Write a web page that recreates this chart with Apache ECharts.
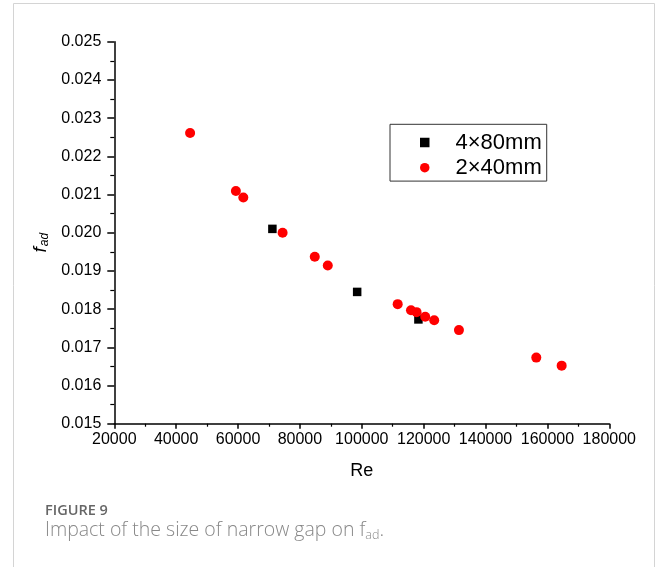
<!DOCTYPE html>
<html>
<head>
<meta charset="utf-8">
<script src="https://cdn.jsdelivr.net/npm/echarts@6/dist/echarts.min.js"></script>
<style>
html,body{margin:0;padding:0;background:#fff;}
#chart{width:658px;height:567px;}
</style>
</head>
<body>
<div id="chart"></div>
<script>
// Data
const seriesNames = ['4×80mm', '2×40mm'];
const re4x80 = [71100, 98500, 118300];
const fad4x80 = [0.02010, 0.01845, 0.01773];
const re2x40 = [44500, 59300, 61700, 74400, 84800, 89000, 111600, 115900, 117700, 120500, 123400, 131400, 156400, 164600];
const fad2x40 = [0.02261, 0.02109, 0.02092, 0.02000, 0.01937, 0.01914, 0.01813, 0.01797, 0.01792, 0.01780, 0.01771, 0.01745, 0.01673, 0.01652];
const xTicks = [20000, 40000, 60000, 80000, 100000, 120000, 140000, 160000, 180000];
const yTicks = [0.015, 0.016, 0.017, 0.018, 0.019, 0.020, 0.021, 0.022, 0.023, 0.024, 0.025];
const xTitle = 'Re';
const captionTitle = 'FIGURE 9';
const captionText = 'Impact of the size of narrow gap on ';

const pairs = (xs, ys) => xs.map((x, i) => [x, ys[i]]);
const FONT = '"Liberation Sans", Arial, sans-serif';
const CAPFONT = '"Open Sans", "Noto Sans", sans-serif';

const chart = echarts.init(document.getElementById('chart'), null, {renderer: 'canvas'});
chart.setOption({
  animation: false,
  backgroundColor: '#fff',
  grid: {left: 114.3, right: 48.7, top: 41.7, bottom: 143.3, containLabel: false},
  xAxis: {
    type: 'value',
    min: xTicks[0], max: xTicks[xTicks.length - 1], interval: xTicks[1] - xTicks[0],
    splitLine: {show: false},
    axisLine: {onZero: false, lineStyle: {color: '#000', width: 1.5}},
    axisTick: {length: 5, lineStyle: {color: '#000', width: 1.5}},
    minorTick: {show: true, splitNumber: 2, length: 3, lineStyle: {color: '#000', width: 1.2}},
    axisLabel: {color: '#000', fontSize: 16, fontFamily: FONT, margin: 8, formatter: v => String(v)},
    name: xTitle, nameLocation: 'middle', nameGap: 38,
    nameTextStyle: {color: '#000', fontSize: 18, fontFamily: FONT}
  },
  yAxis: {
    type: 'value',
    min: yTicks[0], max: yTicks[yTicks.length - 1], interval: 0.001,
    splitLine: {show: false},
    axisLine: {onZero: false, lineStyle: {color: '#000', width: 1.5}},
    axisTick: {length: 7, lineStyle: {color: '#000', width: 1.5}},
    minorTick: {show: true, splitNumber: 2, length: 4, lineStyle: {color: '#000', width: 1.2}},
    axisLabel: {color: '#000', fontSize: 16, fontFamily: FONT, margin: 13, formatter: v => v.toFixed(3)},
    name: '{f|f}{s|ad}', nameLocation: 'middle', nameGap: 61, nameRotate: 90,
    nameTextStyle: {
      color: '#000', fontFamily: FONT,
      rich: {
        f: {fontSize: 19, fontStyle: 'italic', fontFamily: FONT, color: '#000', lineHeight: 22, verticalAlign: 'middle'},
        s: {fontSize: 12, fontStyle: 'italic', fontFamily: FONT, color: '#000', padding: [8, 20, 0, 1], verticalAlign: 'middle'}
      }
    }
  },
  legend: {
    orient: 'vertical',
    left: 390, top: 124.3,
    data: [{name: seriesNames[0], icon: 'rect'}, {name: seriesNames[1], icon: 'circle'}],
    itemWidth: 9.5, itemHeight: 9.5, itemGap: 3.2,
    padding: [7.2, 5, 2.4, 30],
    borderColor: '#333', borderWidth: 1,
    textStyle: {color: '#000', fontSize: 22, fontFamily: FONT, lineHeight: 20, padding: [0, 0, 0, 21]},
  },
  series: [
    {name: seriesNames[0], type: 'scatter', symbol: 'rect', symbolSize: 8.5, z: 3,
     itemStyle: {color: '#000', opacity: 1}, data: pairs(re4x80, fad4x80)},
    {name: seriesNames[1], type: 'scatter', symbol: 'circle', symbolSize: 10, z: 4,
     itemStyle: {color: '#ff0000', opacity: 1}, data: pairs(re2x40, fad2x40)}
  ],
  graphic: [
    {type: 'rect', silent: true, z: -10, shape: {x: 13.5, y: 3.5, width: 641, height: 600},
     style: {fill: 'none', stroke: '#d4d4d4', lineWidth: 1}},
    {type: 'text', left: 45, top: 503,
     style: {text: captionTitle, fill: '#666', font: '600 14.5px ' + CAPFONT}},
    {type: 'text', left: 45, top: 520,
     style: {text: '{a|' + captionText + 'f}{b|ad}{a|.}',
       rich: {
         a: {fill: '#888', fontSize: 19.5, fontWeight: 300, fontFamily: CAPFONT, lineHeight: 26},
         b: {fill: '#888', fontSize: 12.5, fontWeight: 300, fontFamily: CAPFONT, padding: [10, 0, 0, 0]}
       }}}
  ]
});
</script>
</body>
</html>
